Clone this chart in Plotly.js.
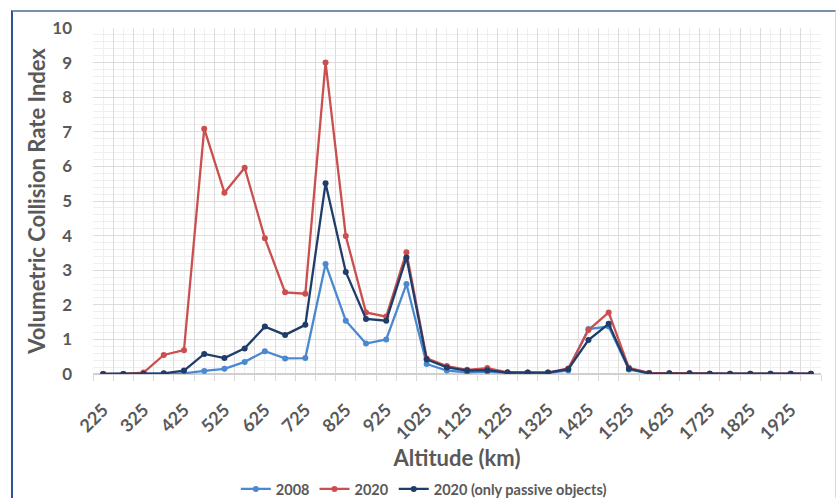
<!DOCTYPE html>
<html>
<head>
<meta charset="utf-8">
<script src="https://cdn.plot.ly/plotly-3.0.1.min.js"></script>
<style>
  html, body { margin: 0; padding: 0; background: #ffffff; }
  #wrap { position: relative; width: 836px; height: 498px; overflow: hidden; }
  #chart { width: 836px; height: 498px; }
  #frame { position: absolute; left: 11px; top: 10px; width: 822px; height: 520px;
           border-left: 2px solid #2f5496; border-top: 2px solid #7890ab; border-right: 1px solid #d5dbe3;
           pointer-events: none; }
</style>
</head>
<body>
<div id="wrap">
  <div id="chart"></div>
  <div id="frame"></div>
</div>
<script>
// Altitude categories (km)
const altitudes = [225,275,325,375,425,475,525,575,625,675,725,775,825,875,925,975,1025,1075,1125,1175,1225,1275,1325,1375,1425,1475,1525,1575,1625,1675,1725,1775,1825,1875,1925,1975];

// Series values
const vcri2008 = [0,0,0,0.01,0.02,0.09,0.15,0.35,0.66,0.45,0.46,3.18,1.54,0.88,1.0,2.6,0.29,0.1,0.05,0.07,0.03,0.02,0.03,0.1,1.3,1.37,0.13,0.02,0.01,0.01,0.01,0,0,0,0,0];
const vcri2020 = [0,0,0.04,0.55,0.69,7.09,5.24,5.96,3.92,2.36,2.32,9.0,3.99,1.78,1.66,3.52,0.45,0.23,0.12,0.17,0.05,0.04,0.04,0.16,1.27,1.78,0.18,0.03,0.02,0.02,0.01,0.01,0.01,0.01,0.01,0.01];
const vcri2020Passive = [0,0,0.01,0.02,0.1,0.58,0.46,0.74,1.37,1.13,1.42,5.51,2.95,1.59,1.54,3.37,0.42,0.19,0.1,0.11,0.04,0.04,0.04,0.14,0.98,1.45,0.15,0.02,0.02,0.02,0.01,0.01,0.01,0.01,0.01,0.01];

// Tick labels (every other category)
const tickLabels = ["225","325","425","525","625","725","825","925","1025","1125","1225","1325","1425","1525","1625","1725","1825","1925"];
const tickPositions = tickLabels.map(Number);

const seriesNames = ["2008", "2020", "2020 (only passive objects)"];
const colors = ["#4a89d0", "#cb4f4f", "#1f3d68"];
const seriesData = [vcri2008, vcri2020, vcri2020Passive];

const font = "Lato, 'Open Sans', sans-serif";
const txt = "#595959";

const traces = seriesData.map((vals, i) => ({
  type: "scatter",
  mode: "lines+markers",
  name: seriesNames[i],
  x: altitudes,
  y: vals,
  xaxis: "x",
  yaxis: "y",
  line: { color: colors[i], width: 2.3 },
  marker: { color: colors[i], size: 6, symbol: "circle" }
}));

// empty helper trace so the gridline axis exists
traces.unshift({ type: "scatter", x: [], y: [], xaxis: "x2", yaxis: "y", showlegend: false, hoverinfo: "skip" });

const xRange = [altitudes[0] - 25, altitudes[altitudes.length - 1] + 25];

const layout = {
  width: 836,
  height: 498,
  paper_bgcolor: "#ffffff",
  plot_bgcolor: "#ffffff",
  margin: { l: 93, r: 15, t: 28, b: 124 },
  showlegend: true,
  legend: {
    orientation: "h",
    xref: "container", yref: "container",
    x: 0.507, xanchor: "center",
    y: 0.018, yanchor: "middle",
    font: { family: font, size: 14.5, color: txt, weight: 700 },
    itemwidth: 30,
    tracegroupgap: 0
  },
  xaxis: {
    range: xRange,
    tickmode: "array",
    tickvals: tickPositions,
    ticktext: tickLabels,
    tickangle: -45,
    ticks: "",
    ticklabelstandoff: 21,
    showgrid: false,
    zeroline: false,
    showline: false,
    automargin: false,
    tickfont: { family: font, size: 18, color: txt, weight: 700 },
    title: { text: "Altitude (km)", font: { family: font, size: 22, color: txt, weight: 700 }, standoff: 0 }
  },
  xaxis2: {
    overlaying: "x",
    anchor: "y",
    side: "bottom",
    range: xRange,
    tickmode: "linear",
    tick0: 200,
    dtick: 50,
    showticklabels: false,
    ticks: "outside",
    ticklen: 6,
    tickcolor: "#d9d9d9",
    showgrid: true,
    gridcolor: "#dcdcdc",
    gridwidth: 1,
    minor: { tick0: 200, dtick: 25, showgrid: true, gridcolor: "#efefef", gridwidth: 1 },
    zeroline: false,
    showline: false,
    automargin: false
  },
  yaxis: {
    range: [0, 10],
    tickmode: "linear",
    tick0: 0,
    dtick: 1,
    showgrid: true,
    gridcolor: "#dcdcdc",
    gridwidth: 1,
    minor: { dtick: 0.2, showgrid: true, gridcolor: "#efefef", gridwidth: 1 },
    zeroline: true,
    zerolinecolor: "#cfcfcf",
    zerolinewidth: 1.5,
    showline: false,
    ticks: "",
    ticklabelstandoff: 20,
    automargin: false,
    tickfont: { family: font, size: 17, color: txt, weight: 700 },
    title: { text: "Volumetric Collision Rate Index", font: { family: font, size: 22, color: txt, weight: 700 }, standoff: 0 }
  }
};

Plotly.newPlot("chart", traces, layout, { displayModeBar: false, staticPlot: true });
</script>
</body>
</html>
